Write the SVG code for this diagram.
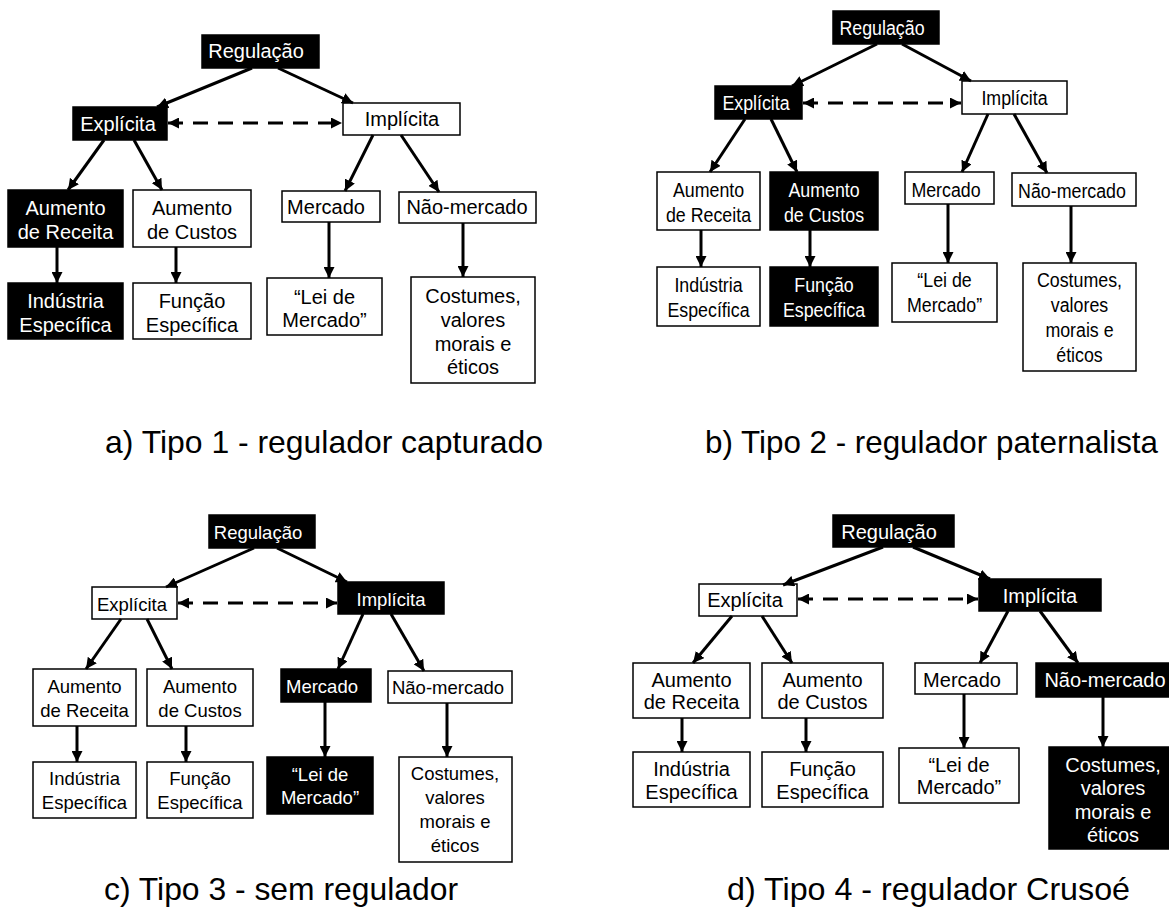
<svg xmlns="http://www.w3.org/2000/svg" width="1169" height="914" viewBox="0 0 1169 914">
<style>
text{font-family:"Liberation Sans",Arial,Helvetica,sans-serif;text-anchor:middle}
.n{font-size:20px}
.s{font-size:18.5px}
.bk{fill:#000;stroke:#000;stroke-width:1.5}
.wh{fill:#fff;stroke:#000;stroke-width:1.5}
.tw{fill:#fff}
.tb{fill:#000}
.cap{font-size:31.5px;text-anchor:start;fill:#000}
.c{stroke:#000;stroke-width:3;fill:none;marker-end:url(#ah)}
.d{stroke:#000;stroke-width:3;fill:none;stroke-dasharray:15 10;marker-end:url(#ah);marker-start:url(#ah)}
</style>
<defs>
<marker id="ah" viewBox="0 0 10 10" refX="10" refY="5" markerWidth="11" markerHeight="11" markerUnits="userSpaceOnUse" orient="auto-start-reverse">
<path d="M0,0 L10,5 L0,10 z" fill="#000"/>
</marker>
</defs>
<rect x="0" y="0" width="1169" height="914" fill="#fff"/>

<!-- Panel a -->
<g id="a-reg"><rect class="bk" x="202" y="35" width="117" height="33"/><text class="n tw" x="256" y="58">Regulação</text></g>
<g id="a-exp"><rect class="bk" x="73" y="107" width="94" height="33"/><text class="n tw" x="118" y="131">Explícita</text></g>
<g id="a-imp"><rect class="wh" x="343" y="103" width="117" height="32"/><text class="n tb" x="402" y="126">Implícita</text></g>
<g id="a-ar"><rect class="bk" x="8" y="190" width="115" height="57"/><text class="n tw" x="65.5" y="215">Aumento<tspan x="65.5" y="239">de Receita</tspan></text></g>
<g id="a-ac"><rect class="wh" x="133" y="190" width="118" height="57"/><text class="n tb" x="192" y="215">Aumento<tspan x="192" y="239">de Custos</tspan></text></g>
<g id="a-mer"><rect class="wh" x="282" y="191" width="98" height="31"/><text class="n tb" x="326" y="213.5">Mercado</text></g>
<g id="a-nao"><rect class="wh" x="399" y="192" width="137" height="31"/><text class="n tb" x="467" y="214">Não-mercado</text></g>
<g id="a-ind"><rect class="bk" x="8" y="283" width="115" height="56"/><text class="n tw" x="65.5" y="308">Indústria<tspan x="65.5" y="332">Específica</tspan></text></g>
<g id="a-fun"><rect class="wh" x="133" y="283" width="118" height="56"/><text class="n tb" x="192" y="308">Função<tspan x="192" y="332">Específica</tspan></text></g>
<g id="a-lei"><rect class="wh" x="267" y="278" width="115" height="57"/><text class="n tb" x="324.5" y="304">“Lei de<tspan x="324.5" y="327">Mercado”</tspan></text></g>
<g id="a-cos"><rect class="wh" x="411" y="277" width="124" height="106"/><text class="n tb" x="473" y="303">Costumes,<tspan x="473" y="327">valores</tspan><tspan x="473" y="351">morais e</tspan><tspan x="473" y="374">éticos</tspan></text></g>
<text id="cap-a" class="cap" x="105" y="453" textLength="438" lengthAdjust="spacingAndGlyphs">a) Tipo 1 - regulador capturado</text>

<!-- Panel b -->
<g id="b-reg"><rect class="bk" x="833" y="11" width="106" height="33"/><text class="n tw" transform="translate(882,35) scale(0.89,1)">Regulação</text></g>
<g id="b-exp"><rect class="bk" x="715" y="86" width="87" height="33"/><text class="n tw" transform="translate(756,110) scale(0.89,1)">Explícita</text></g>
<g id="b-imp"><rect class="wh" x="962" y="81" width="105" height="33"/><text class="n tb" transform="translate(1014.5,105) scale(0.89,1)">Implícita</text></g>
<g id="b-ar"><rect class="wh" x="657" y="172" width="103" height="58"/><text class="n tb" transform="translate(708.5,197) scale(0.89,1)">Aumento<tspan x="0" y="25">de Receita</tspan></text></g>
<g id="b-ac"><rect class="bk" x="770" y="172" width="108" height="58"/><text class="n tw" transform="translate(824,197) scale(0.89,1)">Aumento<tspan x="0" y="25">de Custos</tspan></text></g>
<g id="b-mer"><rect class="wh" x="905" y="172" width="89" height="32"/><text class="n tb" transform="translate(946,197) scale(0.89,1)">Mercado</text></g>
<g id="b-nao"><rect class="wh" x="1012" y="173" width="124" height="33"/><text class="n tb" transform="translate(1072,198) scale(0.89,1)">Não-mercado</text></g>
<g id="b-ind"><rect class="wh" x="657" y="267" width="103" height="59"/><text class="n tb" transform="translate(708.5,292) scale(0.89,1)">Indústria<tspan x="0" y="25">Específica</tspan></text></g>
<g id="b-fun"><rect class="bk" x="770" y="267" width="108" height="59"/><text class="n tw" transform="translate(824,292) scale(0.89,1)">Função<tspan x="0" y="25">Específica</tspan></text></g>
<g id="b-lei"><rect class="wh" x="892" y="263" width="105" height="59"/><text class="n tb" transform="translate(944.5,287) scale(0.89,1)">“Lei de<tspan x="0" y="25">Mercado”</tspan></text></g>
<g id="b-cos"><rect class="wh" x="1023" y="263" width="113" height="108"/><text class="n tb" transform="translate(1079.5,287) scale(0.89,1)">Costumes,<tspan x="0" y="25">valores</tspan><tspan x="0" y="50">morais e</tspan><tspan x="0" y="75">éticos</tspan></text></g>
<text id="cap-b" class="cap" x="705" y="453" textLength="453" lengthAdjust="spacingAndGlyphs">b) Tipo 2 - regulador paternalista</text>

<!-- Panel c -->
<g id="c-reg"><rect class="bk" x="209" y="515" width="106" height="33"/><text class="s tw" x="258" y="539">Regulação</text></g>
<g id="c-exp"><rect class="wh" x="92" y="587" width="85" height="32"/><text class="s tb" x="132" y="611">Explícita</text></g>
<g id="c-imp"><rect class="bk" x="338" y="582" width="106" height="32"/><text class="s tw" x="391" y="606">Implícita</text></g>
<g id="c-ar"><rect class="wh" x="33" y="669" width="103" height="57"/><text class="s tb" x="84.5" y="693">Aumento<tspan x="84.5" y="717">de Receita</tspan></text></g>
<g id="c-ac"><rect class="wh" x="147" y="669" width="106" height="57"/><text class="s tb" x="200" y="693">Aumento<tspan x="200" y="717">de Custos</tspan></text></g>
<g id="c-mer"><rect class="bk" x="281" y="669" width="90" height="33"/><text class="s tw" x="322" y="693">Mercado</text></g>
<g id="c-nao"><rect class="wh" x="388" y="671" width="124" height="32"/><text class="s tb" x="448" y="694">Não-mercado</text></g>
<g id="c-ind"><rect class="wh" x="33" y="762" width="103" height="56"/><text class="s tb" x="84.5" y="785">Indústria<tspan x="84.5" y="809">Específica</tspan></text></g>
<g id="c-fun"><rect class="wh" x="147" y="762" width="106" height="56"/><text class="s tb" x="200" y="785">Função<tspan x="200" y="809">Específica</tspan></text></g>
<g id="c-lei"><rect class="bk" x="267" y="757" width="106" height="57"/><text class="s tw" x="320" y="781">“Lei de<tspan x="320" y="804">Mercado”</tspan></text></g>
<g id="c-cos"><rect class="wh" x="399" y="757" width="113" height="105"/><text class="s tb" x="455" y="780">Costumes,<tspan x="455" y="804">valores</tspan><tspan x="455" y="828">morais e</tspan><tspan x="455" y="852">éticos</tspan></text></g>
<text id="cap-c" class="cap" x="104" y="900" textLength="354" lengthAdjust="spacingAndGlyphs">c) Tipo 3 - sem regulador</text>

<!-- Panel d -->
<g id="d-reg"><rect class="bk" x="833" y="515" width="121" height="32"/><text class="n tw" x="889" y="539">Regulação</text></g>
<g id="d-exp"><rect class="wh" x="699" y="584" width="98" height="32"/><text class="n tb" x="745" y="607">Explícita</text></g>
<g id="d-imp"><rect class="bk" x="979" y="579" width="122" height="32"/><text class="n tw" x="1040" y="603">Implícita</text></g>
<g id="d-ar"><rect class="wh" x="633" y="663" width="117" height="55"/><text class="n tb" x="691.5" y="687">Aumento<tspan x="691.5" y="709">de Receita</tspan></text></g>
<g id="d-ac"><rect class="wh" x="762" y="663" width="121" height="55"/><text class="n tb" x="822.5" y="687">Aumento<tspan x="822.5" y="709">de Custos</tspan></text></g>
<g id="d-mer"><rect class="wh" x="915" y="663" width="102" height="31"/><text class="n tb" x="962" y="687">Mercado</text></g>
<g id="d-nao"><rect class="bk" x="1036" y="663" width="136" height="34"/><text class="n tw" x="1105" y="687">Não-mercado</text></g>
<g id="d-ind"><rect class="wh" x="633" y="752" width="117" height="55"/><text class="n tb" x="691.5" y="776">Indústria<tspan x="691.5" y="799">Específica</tspan></text></g>
<g id="d-fun"><rect class="wh" x="762" y="752" width="121" height="55"/><text class="n tb" x="822.5" y="776">Função<tspan x="822.5" y="799">Específica</tspan></text></g>
<g id="d-lei"><rect class="wh" x="899" y="748" width="120" height="55"/><text class="n tb" x="959" y="772">“Lei de<tspan x="959" y="794">Mercado”</tspan></text></g>
<g id="d-cos"><rect class="bk" x="1049" y="747" width="123" height="102"/><text class="n tw" x="1113" y="772">Costumes,<tspan x="1113" y="795">valores</tspan><tspan x="1113" y="819">morais e</tspan><tspan x="1113" y="842">éticos</tspan></text></g>
<text id="cap-d" class="cap" x="727" y="900" textLength="403" lengthAdjust="spacingAndGlyphs">d) Tipo 4 - regulador Crusoé</text>

<g id="connectors">
<!-- a -->
<line class="c" x1="252" y1="68" x2="157" y2="107"/>
<line class="c" x1="278" y1="68" x2="353" y2="103"/>
<line class="d" x1="168" y1="123" x2="342" y2="123"/>
<line class="c" x1="104" y1="140" x2="68" y2="190"/>
<line class="c" x1="134" y1="140" x2="162" y2="190"/>
<line class="c" x1="373" y1="135" x2="345" y2="191"/>
<line class="c" x1="401" y1="135" x2="439" y2="192"/>
<line class="c" x1="57" y1="247" x2="57" y2="283"/>
<line class="c" x1="176" y1="247" x2="176" y2="283"/>
<line class="c" x1="329" y1="222" x2="329" y2="278"/>
<line class="c" x1="463" y1="223" x2="463" y2="277"/>
<!-- b -->
<line class="c" x1="877" y1="44" x2="792" y2="86"/>
<line class="c" x1="902" y1="44" x2="971" y2="81"/>
<line class="d" x1="803" y1="103" x2="961" y2="103"/>
<line class="c" x1="745" y1="119" x2="710" y2="172"/>
<line class="c" x1="771" y1="119" x2="797" y2="172"/>
<line class="c" x1="988" y1="114" x2="962" y2="172"/>
<line class="c" x1="1014" y1="114" x2="1047" y2="173"/>
<line class="c" x1="701" y1="230" x2="701" y2="267"/>
<line class="c" x1="810" y1="230" x2="810" y2="267"/>
<line class="c" x1="948" y1="204" x2="948" y2="263"/>
<line class="c" x1="1071" y1="206" x2="1071" y2="263"/>
<!-- c -->
<line class="c" x1="254" y1="548" x2="166" y2="587"/>
<line class="c" x1="277" y1="548" x2="347" y2="582"/>
<line class="d" x1="178" y1="603" x2="337" y2="603"/>
<line class="c" x1="121" y1="619" x2="86" y2="669"/>
<line class="c" x1="147" y1="619" x2="172" y2="669"/>
<line class="c" x1="363" y1="614" x2="338" y2="669"/>
<line class="c" x1="391" y1="614" x2="424" y2="671"/>
<line class="c" x1="77" y1="726" x2="77" y2="762"/>
<line class="c" x1="186" y1="726" x2="186" y2="762"/>
<line class="c" x1="325" y1="702" x2="325" y2="757"/>
<line class="c" x1="447" y1="703" x2="447" y2="757"/>
<!-- d -->
<line class="c" x1="883" y1="547" x2="783" y2="585"/>
<line class="c" x1="913" y1="547" x2="990" y2="579"/>
<line class="d" x1="798" y1="599" x2="978" y2="599"/>
<line class="c" x1="732" y1="616" x2="693" y2="663"/>
<line class="c" x1="762" y1="616" x2="792" y2="663"/>
<line class="c" x1="1008" y1="611" x2="980" y2="663"/>
<line class="c" x1="1040" y1="611" x2="1078" y2="663"/>
<line class="c" x1="682" y1="718" x2="682" y2="752"/>
<line class="c" x1="806" y1="718" x2="806" y2="752"/>
<line class="c" x1="964" y1="694" x2="964" y2="748"/>
<line class="c" x1="1103" y1="697" x2="1103" y2="747"/>
</g>
</svg>
